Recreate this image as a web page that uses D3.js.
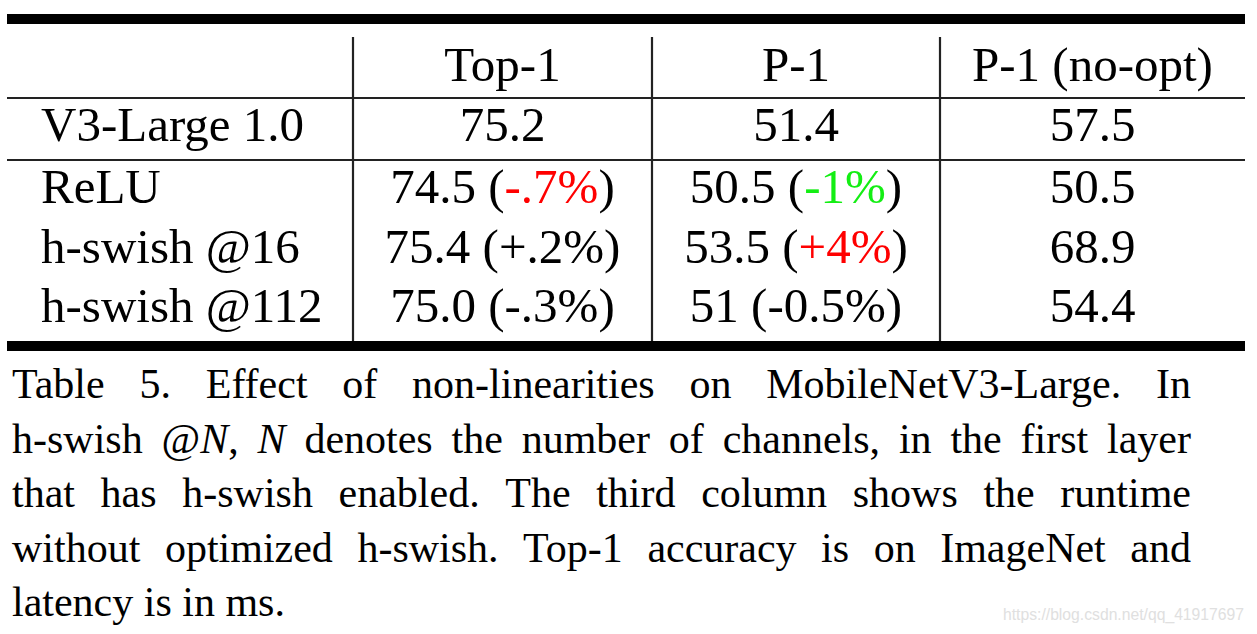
<!DOCTYPE html>
<html>
<head>
<meta charset="utf-8">
<script src="https://cdn.jsdelivr.net/npm/d3@7"></script>
</head>
<body style="margin:0">
<svg id="chart" width="1257" height="634"></svg>
<script>
// ---- data ----
const columns = ["", "Top-1", "P-1", "P-1 (no-opt)"];
const rowLabels = ["V3-Large 1.0", "ReLU", "h-swish @16", "h-swish @112"];
const top1Values = ["75.2", "74.5", "75.4", "75.0"];
const top1Deltas = [null, "-.7%", "+.2%", "-.3%"];
const top1DeltaColors = [null, "red", "black", "black"];
const p1Values = ["51.4", "50.5", "53.5", "51"];
const p1Deltas = [null, "-1%", "+4%", "-0.5%"];
const p1DeltaColors = [null, "green", "red", "black"];
const noOptValues = ["57.5", "50.5", "68.9", "54.4"];
const captionLines = [
  "Table 5. Effect of non-linearities on MobileNetV3-Large.  In",
  "h-swish @*N*, *N* denotes the number of channels, in the first layer",
  "that has h-swish enabled.  The third column shows the runtime",
  "without optimized h-swish.  Top-1 accuracy is on ImageNet and",
  "latency is in ms."
];
const watermark = "https://blog.csdn.net/qq_41917697";

// ---- layout ----
const svg = d3.select("#chart");
const colorMap = {red: "#ff0000", green: "#14ee14", black: "#000000"};
const SERIF = "'" + ["Liberation", "Serif"].join(" ") + "', monospace";
const SANS = "'" + ["Liberation", "Sans"].join(" ") + "', monospace";

const colEdges = [7, 353, 652, 940, 1245];
const xCenter = d3.scaleOrdinal().domain(d3.range(4))
  .range(d3.range(4).map(i => (colEdges[i] + colEdges[i + 1]) / 2));
const rowKeys = ["header", "r0", "r1", "r2", "r3"];
const yBase = d3.scaleOrdinal().domain(rowKeys).range([81, 141, 203, 263, 322]);
const tableFont = 49;

// rules
const thick = [{y: 14, h: 10}, {y: 341, h: 10}];
svg.selectAll("rect.thick").data(thick).join("rect")
  .attr("x", colEdges[0]).attr("width", colEdges[4] - colEdges[0])
  .attr("y", d => d.y).attr("height", d => d.h).attr("fill", "#000");
const thin = [98, 160];
svg.selectAll("line.h").data(thin).join("line")
  .attr("x1", colEdges[0]).attr("x2", colEdges[4])
  .attr("y1", d => d).attr("y2", d => d)
  .attr("stroke", "#222").attr("stroke-width", 2.2);
svg.selectAll("line.v").data(colEdges.slice(1, 4)).join("line")
  .attr("x1", d => d).attr("x2", d => d)
  .attr("y1", 37).attr("y2", 341)
  .attr("stroke", "#222").attr("stroke-width", 2.2);

function styl(sel, size) {
  return sel.style("font-family", SERIF).style("font-size", size + "px").attr("fill", "#000");
}

// header
styl(svg.selectAll("text.hdr").data(columns.slice(1)).join("text"), tableFont)
  .attr("x", (d, i) => xCenter(i + 1)).attr("y", yBase("header"))
  .attr("text-anchor", "middle").text(d => d);

// row labels
styl(svg.selectAll("text.lbl").data(rowLabels).join("text"), tableFont)
  .attr("x", 41).attr("y", (d, i) => yBase("r" + i))
  .text(d => d);

function cell(col, i, value, delta, dcol) {
  const t = styl(svg.append("text"), tableFont)
    .attr("x", xCenter(col)).attr("y", yBase("r" + i))
    .attr("text-anchor", "middle");
  if (delta == null) { t.text(value); return; }
  t.append("tspan").text(value + " (");
  t.append("tspan").attr("fill", colorMap[dcol]).text(delta);
  t.append("tspan").text(")");
}
rowLabels.forEach((r, i) => {
  cell(1, i, top1Values[i], top1Deltas[i], top1DeltaColors[i]);
  cell(2, i, p1Values[i], p1Deltas[i], p1DeltaColors[i]);
  cell(3, i, noOptValues[i], null, null);
});

// caption (justified word by word)
const capFont = 42, capLeft = 12, capRight = 1191;
const capBase = d3.scaleLinear().domain([0, 4]).range([398, 616]);
function parseWord(w) {
  const parts = w.split("*");
  return parts.map((p, k) => ({text: p, italic: k % 2 === 1})).filter(p => p.text.length);
}
captionLines.forEach((line, li) => {
  const words = line.split(/ +/);
  const els = [], widths = [];
  let total = 0;
  words.forEach(w => {
    const t = styl(svg.append("text"), capFont).attr("y", capBase(li));
    parseWord(w).forEach(p => {
      t.append("tspan").style("font-style", p.italic ? "italic" : "normal").text(p.text);
    });
    const wd = t.node().getComputedTextLength();
    widths.push(wd); total += wd; els.push(t);
  });
  const justify = li < captionLines.length - 1;
  const gaps = words.length - 1;
  const natSpace = capFont * 0.25;
  const space = justify && gaps > 0 ? (capRight - capLeft - total) / gaps : natSpace;
  let x = capLeft;
  words.forEach((w, k) => {
    els[k].attr("x", x);
    x += widths[k] + space;
  });
});

// watermark
svg.append("text").attr("x", 1003).attr("y", 620)
  .style("font-family", SANS).style("font-size", "16px")
  .attr("fill", "#e0e0e0").attr("textLength", 241).attr("lengthAdjust", "spacingAndGlyphs")
  .text(watermark);
</script>
</body>
</html>
